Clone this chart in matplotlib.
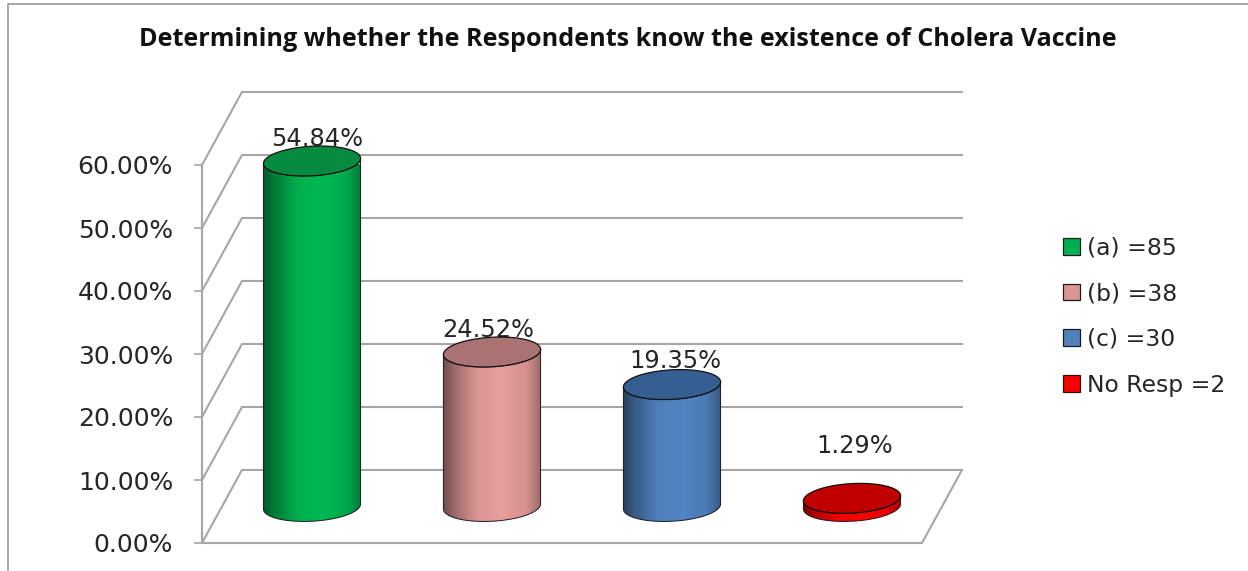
import numpy as np
import matplotlib
matplotlib.use("Agg")
import matplotlib.pyplot as plt
from matplotlib.lines import Line2D
from matplotlib.patches import Patch, Polygon

plt.rcParams["font.family"] = ["DejaVu Sans"]

W, H = 1248, 571

legend_labels = ["(a) =85", "(b) =38", "(c) =30", "No Resp =2"]
values = [54.84, 24.52, 19.35, 1.29]
body_colors = ["#00B853", "#E89E9C", "#5385C4", "#FF0000"]
top_colors = ["#058A3F", "#A87372", "#365F91", "#C00000"]
legend_colors = ["#00B050", "#D99694", "#4F81BD", "#FF0000"]
y_ticks = [0, 10, 20, 30, 40, 50, 60]
title = "Determining whether the Respondents know the existence of Cholera Vaccine"

# data labels were moved by hand in the original, offsets in pixels from the bar top
label_dx = [5, -4, 3, 3]
label_dy = [22, 22, 24, 52]

GRID = "#A6A6A6"
TEXT = "#262626"

# 3d look: how far the back wall is shifted from the front plane
DEPTH_X = 0.2222
DEPTH_Y = 11.59
RADIUS_X = 0.266
RADIUS_D = 0.205


def px(x, y):
    return x / W, 1 - y / H


def project(x, y, depth):
    return x + depth * DEPTH_X, y + depth * DEPTH_Y


def ring(center, y, t):
    depth = 0.5 + RADIUS_D * np.sin(t)
    return project(center + RADIUS_X * np.cos(t), y, depth)


def draw_cylinder(ax, center, value, body, top, z):
    # tangent angle of the sheared ellipse, where the sides of the body sit
    t0 = np.arctan2(DEPTH_X * RADIUS_D, RADIUS_X)
    t = np.linspace(t0 + np.pi, t0 + 2 * np.pi, 80)
    bx, by = ring(center, 0, t)
    tx, ty = ring(center, value, t[::-1])
    outline = np.column_stack([np.r_[bx, tx], np.r_[by, ty]])

    clip = Polygon(outline, closed=True, facecolor="none", edgecolor="#1A1A1A",
                   linewidth=0.7, zorder=z + 1, clip_on=False)
    ax.add_patch(clip)

    # dark at the edges, brightest a bit right of the middle
    rgb = np.array(matplotlib.colors.to_rgb(body))
    pos = np.linspace(0, 1, 128)
    shade = np.interp(pos, [0, 0.12, 0.35, 0.6, 0.85, 1], [0.48, 0.68, 0.95, 1, 0.92, 0.68])
    img = (shade[:, None] * rgb)[None, :, :]
    im = ax.imshow(img, extent=(bx.min(), bx.max(), by.min(), ty.max()), aspect="auto",
                   origin="lower", zorder=z, interpolation="bilinear")
    im.set_clip_box(None)
    im.set_clip_path(clip)

    a = np.linspace(0, 2 * np.pi, 160)
    ex, ey = ring(center, value, a)
    ax.add_patch(Polygon(np.column_stack([ex, ey]), closed=True, facecolor=top,
                         edgecolor="#101010", linewidth=0.9, zorder=z + 2, clip_on=False))


def main():
    fig = plt.figure(figsize=(W / 100, H / 100), dpi=100, facecolor="white")
    ax = fig.add_axes([202 / W, (H - 543) / H, 720 / W, 378 / H])
    ax.patch.set_visible(False)

    # chart frame, runs off the picture at right and bottom
    fig.add_artist(Line2D([px(8, 0)[0], px(8, 0)[0], 1], [0, px(0, 4)[1], px(0, 4)[1]],
                          color=GRID, linewidth=1.4, transform=fig.transFigure))

    # back wall, side wall and floor
    for v in y_ticks:
        x0, y0 = project(0, v, 0)
        x1, y1 = project(0, v, 1)
        x2, y2 = project(4, v, 1)
        ax.plot([x0, x1, x2], [y0, y1, y2], color=GRID, linewidth=1.5, clip_on=False, zorder=1)
    x1, y1 = project(4, 0, 1)
    ax.plot([0, 4, x1], [0, 0, y1], color=GRID, linewidth=1.5, clip_on=False, zorder=1)

    for i, v in enumerate(values):
        center = i + 0.5
        draw_cylinder(ax, center, v, body_colors[i], top_colors[i], 3 + i * 4)
        lx, ly = project(center, v, 0.5)
        ax.annotate(f"{v:.2f}%", (lx, ly), xytext=(label_dx[i] * 0.72, label_dy[i] * 0.72),
                    textcoords="offset points", ha="center", va="center", fontsize=17.4,
                    color=TEXT, zorder=2, annotation_clip=False)

    ax.set_xlim(0, 4)
    ax.set_ylim(0, 60)
    ax.set_xticks([])
    ax.set_yticks(y_ticks)
    ax.set_yticklabels([f"{v:.2f}%" for v in y_ticks], fontsize=18, color=TEXT)
    ax.tick_params(axis="y", length=5.8, width=1.2, color=GRID, pad=15)
    for side in ["top", "right", "bottom"]:
        ax.spines[side].set_visible(False)
    ax.spines["left"].set_color(GRID)
    ax.spines["left"].set_linewidth(1.5)

    handles = [Patch(facecolor=c, edgecolor="#1A1A1A", linewidth=0.9, label=l)
               for c, l in zip(legend_colors, legend_labels)]
    fig.legend(handles=handles, loc="center left", bbox_to_anchor=px(1063, 316.5), frameon=False,
               fontsize=16.9, labelcolor=TEXT, handlelength=0.72, handleheight=0.72,
               handletextpad=0.3, labelspacing=0.97, borderpad=0, borderaxespad=0)

    fig.text(*px(628, 39), title, ha="center", va="center", fontsize=18.1,
             fontweight="bold", family="Open Sans", color="#111111")

    fig.savefig("out.png", dpi=100, facecolor="white")
    plt.close(fig)


if __name__ == "__main__":
    main()
